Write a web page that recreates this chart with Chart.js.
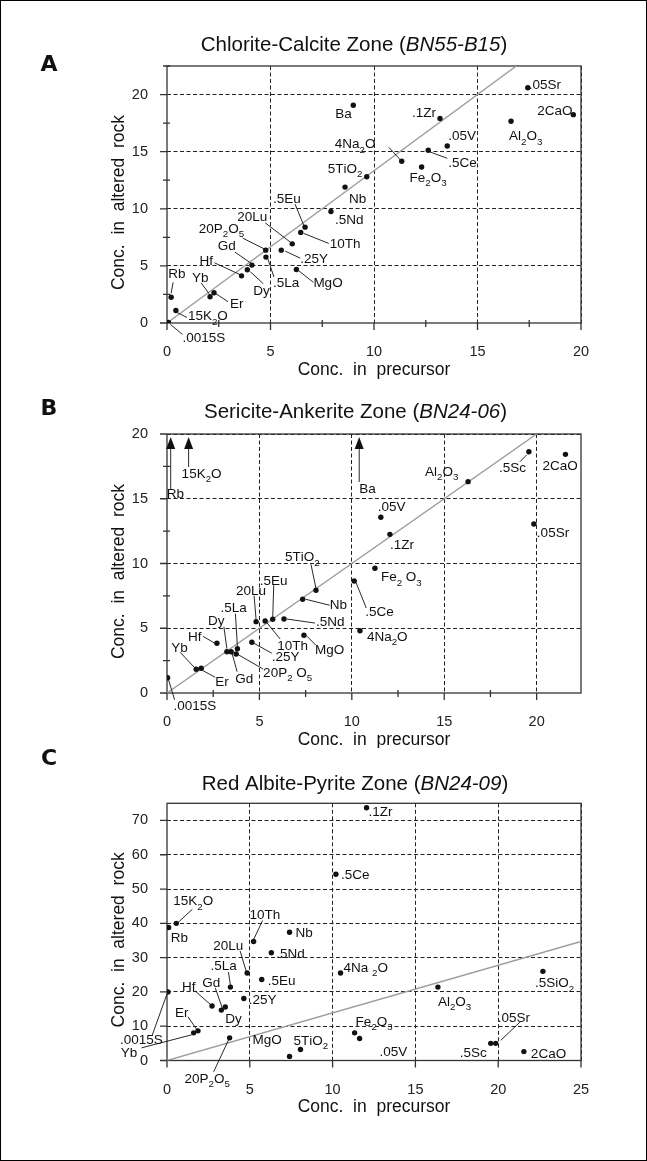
<!DOCTYPE html>
<html>
<head>
<meta charset="utf-8">
<script src="https://cdn.jsdelivr.net/npm/chart.js@4.4.1/dist/chart.umd.min.js"></script>
<style>
  html, body { margin: 0; padding: 0; background: #fff; }
  #fig { position: relative; width: 647px; height: 1161px; background: #fff; overflow: hidden; }
  #fig canvas { position: absolute; left: 0; }
  #frame { position: absolute; left: 0; top: 0; width: 647px; height: 1161px; box-sizing: border-box; border: 1px solid #000; pointer-events: none; }
</style>
</head>
<body>
<div id="fig">
  <canvas id="chartA" width="647" height="385" style="top:0px"></canvas>
  <canvas id="chartB" width="647" height="363" style="top:385px"></canvas>
  <canvas id="chartC" width="647" height="413" style="top:748px"></canvas>
  <div id="frame"></div>
</div>
<script>
// ---- data ----
// "_" marks the next character as a subscript
const elemsA = ['Rb', '15K_2O', '.0015S', 'Yb', 'Er', 'Hf', 'Dy', 'Gd', '20P_2O_5', '.5La', '20Lu', '.5Eu', '10Th', '.25Y', 'MgO',
    '.5Nd', 'Nb', '5TiO_2', '4Na_2O', 'Fe_2O_3', '.5Ce', '.05V', '.1Zr', 'Al_2O_3', '2CaO', '.05Sr', 'Ba'];
const precA = [0.2, 0.43, 0.07, 2.08, 2.27, 3.6, 3.88, 4.1, 4.77, 4.78, 6.05, 6.67, 6.46, 5.52, 6.25,
    7.92, 8.6, 9.65, 11.34, 12.3, 12.62, 13.54, 13.19, 16.62, 19.63, 17.43, 9.0];
const altA = [2.25, 1.1, 0.05, 2.3, 2.65, 4.13, 4.66, 5.07, 6.38, 5.77, 6.93, 8.39, 7.93, 6.38, 4.69,
    9.76, 11.9, 12.8, 14.16, 13.66, 15.12, 15.5, 17.9, 17.66, 18.24, 20.6, 19.06];

const elemsB = ['.0015S', 'Yb', 'Er', 'Hf', 'Dy', 'Gd', '.5La', '20P_2 O_5', '.25Y', '20Lu', '.5Eu', '10Th', '.5Nd', 'MgO', 'Nb',
    '5TiO_2', 'Al_2O_3', '.5Sc', '2CaO', '.05V', '.1Zr', '.05Sr', 'Fe_2 O_3', '.5Ce', '4Na_2O'];
const precB = [0.03, 1.58, 1.85, 2.7, 3.24, 3.47, 3.81, 3.74, 4.59, 4.82, 5.72, 5.31, 6.33, 7.41, 7.34,
    8.06, 16.29, 19.58, 21.56, 11.57, 12.06, 19.85, 11.25, 10.13, 10.44];
const altB = [1.18, 1.83, 1.91, 3.84, 3.19, 3.19, 3.42, 3.01, 3.92, 5.51, 5.69, 5.56, 5.71, 4.46, 7.24,
    7.93, 16.32, 18.63, 18.43, 13.57, 12.25, 13.05, 9.63, 8.65, 4.81];
// off-scale in the altered rock (drawn as arrows)
const offScaleB = ['Rb', '15K_2O', 'Ba'];
const offScalePrecB = [0.2, 1.17, 10.4];

const elemsC = ['Rb', '15K_2O', '.0015S', 'Yb', 'Er', 'Hf', 'Gd', 'Dy', '.5La', '20Lu', '.25Y', '.5Eu', '.5Nd', 'Nb', '10Th',
    '20P_2O_5', 'MgO', '5TiO_2', '.5Ce', '.1Zr', '4Na _2O', 'Al_2O_3', '.5SiO_2', 'Fe_2O_3', '.05V', '.05Sr', '.5Sc', '2CaO'];
const precC = [0.1, 0.56, 0.06, 1.61, 1.87, 2.72, 3.28, 3.52, 3.83, 4.84, 4.64, 5.72, 6.3, 7.4, 5.23,
    3.78, 7.4, 8.06, 10.2, 12.05, 10.48, 16.36, 22.7, 11.33, 11.63, 19.85, 19.55, 21.55];
const altC = [38.8, 40.0, 20.0, 8.07, 8.65, 15.9, 14.7, 15.6, 21.4, 25.5, 18.1, 23.6, 31.4, 37.4, 34.7,
    6.6, 1.2, 3.2, 54.3, 73.7, 25.5, 21.4, 26.0, 8.07, 6.43, 5.0, 5.0, 2.6];

// isocon lines (through the origin)
const isoconA = [[0, 0], [16.875, 22.5]];
const isoconB = [[0, 0], [20, 20]];
const isoconC = [[0, 0], [25, 34.7]];

const xTicksA = [0, 5, 10, 15, 20], yTicksA = [0, 5, 10, 15, 20];
const xTicksB = [0, 5, 10, 15, 20], yTicksB = [0, 5, 10, 15, 20];
const xTicksC = [0, 5, 10, 15, 20, 25], yTicksC = [0, 10, 20, 30, 40, 50, 60, 70];

// ---- label layout: [dx, dy, leader x1, y1, x2, y2] in px from the point ----
const labA = {
    'Rb': [-3, -19, 0, -4, 2, -15], '15K_2O': [12, 10, 1, 2, 11, 7], '.0015S': [14, 19.5, 2, 2, 14, 12],
    'Yb': [-18, -15, -1, -3, -9, -14], 'Er': [16, 15, 2, 1, 14, 9], 'Hf': [-42, -11, -1, -1, -27, -13],
    'Dy': [6, 25, 3, 2, 16, 14], 'Gd': [-34, -15, -1, -2, -17, -13], '20P_2O_5': [-67, -17, -1, -1, -23, -12],
    '.5La': [7, 30, 2, 2, 8, 20], '20Lu': [-55, -23, -1, -1, -27, -21], '.5Eu': [-32, -24, -1, -1, -10, -23],
    '10Th': [29, 16, 3, 1, 28, 11], '.25Y': [19, 13, 4, 1, 19, 8], 'MgO': [17, 18, 2, 1, 17, 13],
    '.5Nd': [4, 12], 'Nb': [4, 16], '5TiO_2': [-39, -4], '4Na_2O': [-67, -13, -1, -1, -13, -14],
    'Fe_2O_3': [-12, 15], '.5Ce': [20, 17, 0, 1, 19, 8], '.05V': [1, -6], '.1Zr': [-28, -2],
    'Al_2O_3': [-2, 19], '2CaO': [-36, 0], '.05Sr': [1, 1], 'Ba': [-18, 13]
};
const labB = {
    '.0015S': [6, 32, 1, 2, 7, 22], 'Yb': [-25, -17, -1, -1, -16, -17], 'Er': [14, 18, 1, 2, 14, 9],
    'Hf': [-29, -2, -2, 0, -14, -7], 'Dy': [-19, -27, 0, -3, -3, -25], 'Gd': [4, 31, 1, 2, 6, 20],
    '.5La': [-17, -37, 0, -2, -2, -35], '20P_2 O_5': [27, 23, 1, 0, 27, 15], '.25Y': [20, 19, 2, 1, 20, 11],
    '20Lu': [-20, -27, 0, -2, -2, -26], '.5Eu': [-13, -34, 0, -1, 1, -34], '10Th': [12, 29, 2, 2, 15, 18],
    '.5Nd': [32, 7, 3, 0, 31, 4], 'MgO': [11, 19, 3, 1, 12, 10], 'Nb': [27, 10, 3, 0, 27, 6],
    '5TiO_2': [-31, -29, 0, -2, -5, -26], 'Al_2O_3': [-43, -6], '.5Sc': [-30, 20, -2, 3, -9, 10],
    '2CaO': [-23, 16], '.05V': [-3, -6], '.1Zr': [0, 15], '.05Sr': [3, 13], 'Fe_2 O_3': [6, 13],
    '.5Ce': [11, 35, 2, 2, 12, 27], '4Na_2O': [7, 10]
};
// arrows: [length px, label dx, label dy] from the arrow base
const arrowLayB = [[52, -4, 9], [30, -7, 11], [45, 0, 11]];
const labC = {
    'Rb': [2, 15], '15K_2O': [-3, -18, 2, -1, 16, -14], '.0015S': [-48, 52, -1, 2, -16, 44],
    'Yb': [-73, 24, -2, 2, -52, 15], 'Er': [-23, -14, -1, -1, -10, -14], 'Hf': [-30, -15, -1, -1, -17, -15],
    'Gd': [-19, -23, 1, -2, -6, -22], 'Dy': [0, 16], '.5La': [-20, -17, 0, -2, -2, -15],
    '20Lu': [-34, -23, -1, -2, -7, -22], '.25Y': [5, 6], '.5Eu': [6, 5], '.5Nd': [5, 5], 'Nb': [6, 5],
    '10Th': [-4, -23, 0, -2, 9, -21], '20P_2O_5': [-45, 45, -1, 2, -16, 34], 'MgO': [-37, -12],
    '5TiO_2': [-7, -5], '.5Ce': [5, 5], '.1Zr': [2, 8], '4Na _2O': [3, -1], 'Al_2O_3': [0, 19],
    '.5SiO_2': [-8, 16], 'Fe_2O_3': [1, -7], '.05V': [20, 18], '.05Sr': [2, -21, 5, -3, 25, -22],
    '.5Sc': [-31, 14], '2CaO': [7, 6]
};

const FONT = '"Liberation Sans", Arial, Helvetica, sans-serif';

function drawRich(ctx, str, x, y, size) {
    let cx = x;
    for (let i = 0; i < str.length; i++) {
        let ch = str[i], sub = false;
        if (ch === '_') { sub = true; ch = str[++i]; }
        ctx.font = (sub ? size * 0.72 : size) + 'px ' + FONT;
        ctx.fillText(ch, cx, sub ? y + size * 0.32 : y);
        cx += ctx.measureText(ch).width;
    }
}

function decor(o) {
    return {
        id: 'decor',
        beforeDatasetsDraw(chart) {
            const {ctx, chartArea: a, scales: {x, y}} = chart;
            ctx.save();
            ctx.strokeStyle = '#333';
            ctx.lineWidth = 1.3;
            ctx.strokeRect(a.left, a.top, a.right - a.left, a.bottom - a.top);
            ctx.beginPath();
            x.ticks.forEach(t => { const p = x.getPixelForValue(t.value); ctx.moveTo(p, a.bottom); ctx.lineTo(p, a.bottom + 7); });
            y.ticks.forEach(t => { const p = y.getPixelForValue(t.value); ctx.moveTo(a.left, p); ctx.lineTo(a.left - 7, p); });
            o.minorX.forEach(v => { const p = x.getPixelForValue(v); ctx.moveTo(p, a.bottom - 3); ctx.lineTo(p, a.bottom + 4); });
            o.minorY.forEach(v => { const p = y.getPixelForValue(v); ctx.moveTo(a.left + 3, p); ctx.lineTo(a.left - 4, p); });
            ctx.stroke();
            ctx.restore();
        },
        afterDatasetsDraw(chart) {
            const {ctx, chartArea: a, scales: {x, y}} = chart;
            ctx.save();
            ctx.fillStyle = '#111';
            ctx.strokeStyle = '#111';
            ctx.lineWidth = 0.9;
            ctx.textBaseline = 'alphabetic';
            ctx.textAlign = 'left';
            ctx.beginPath();
            o.elems.forEach((name, i) => {
                const l = o.lab[name];
                if (!l) return;
                const px = x.getPixelForValue(o.xs[i]), py = y.getPixelForValue(o.ys[i]);
                drawRich(ctx, name, px + l[0], py + l[1], 13.5);
                if (l.length > 2) { ctx.moveTo(px + l[2], py + l[3]); ctx.lineTo(px + l[4], py + l[5]); }
            });
            ctx.stroke();
            // off-scale arrows
            (o.arrows || []).forEach((name, i) => {
                const [len, dx, dy] = o.arrowLay[i];
                const px = x.getPixelForValue(o.arrowX[i]);
                const tip = a.top + 3, base = tip + len;
                ctx.beginPath();
                ctx.moveTo(px, base); ctx.lineTo(px, tip + 10);
                ctx.stroke();
                ctx.beginPath();
                ctx.moveTo(px, tip); ctx.lineTo(px - 4.5, tip + 12); ctx.lineTo(px + 4.5, tip + 12); ctx.closePath();
                ctx.fill();
                drawRich(ctx, name, px + dx, base + dy, 13.5);
            });
            ctx.restore();
        },
        afterDraw(chart) {
            const {ctx, chartArea: a} = chart;
            ctx.save();
            ctx.fillStyle = '#111';
            // panel letter
            ctx.font = 'bold 22px "DejaVu Sans", sans-serif';
            ctx.textAlign = 'center';
            ctx.textBaseline = 'middle';
            ctx.fillText(o.letter, o.letterPos[0], o.letterPos[1]);
            // panel title with italic sample name
            ctx.textBaseline = 'alphabetic';
            ctx.textAlign = 'left';
            const fonts = o.title.map(p => (p[1] ? 'italic ' : '') + '20.5px ' + FONT);
            let w = 0;
            o.title.forEach((p, i) => { ctx.font = fonts[i]; w += ctx.measureText(p[0]).width; });
            let tx = o.titlePos[0] - w / 2;
            o.title.forEach((p, i) => { ctx.font = fonts[i]; ctx.fillText(p[0], tx, o.titlePos[1]); tx += ctx.measureText(p[0]).width; });
            // axis titles
            ctx.font = '17.5px ' + FONT;
            ctx.textAlign = 'center';
            ctx.textBaseline = 'middle';
            ctx.fillText('Conc.  in  precursor', (a.left + a.right) / 2, a.bottom + 47);
            ctx.translate(119, (a.top + a.bottom) / 2 + 8);
            ctx.rotate(-Math.PI / 2);
            ctx.fillText('Conc.  in  altered  rock', 0, 0);
            ctx.restore();
        }
    };
}

function panel(id, o) {
    const gridColor = c => (c.tick && c.tick.value === 0) ? 'rgba(0,0,0,0)' : '#222';
    const axis = (max, ticks, pad, fit) => ({
        type: 'linear', min: 0, max: max,
        afterBuildTicks: s => { s.ticks = ticks.map(v => ({value: v})); },
        afterFit: fit,
        ticks: {padding: pad, color: '#222', font: {family: FONT, size: 14.5}, autoSkip: false, maxRotation: 0},
        grid: {color: gridColor, lineWidth: 1, drawTicks: false},
        border: {display: false, dash: [4, 2.5]}
    });
    return new Chart(document.getElementById(id), {
        type: 'scatter',
        data: {
            datasets: [{
                data: o.xs.map((v, i) => ({x: v, y: o.ys[i]})),
                pointRadius: 2.7, pointHoverRadius: 2.7, backgroundColor: '#111', borderWidth: 0, order: 0
            }, {
                data: o.iso.map(p => ({x: p[0], y: p[1]})),
                showLine: true, pointRadius: 0, borderColor: '#9c9c9c', borderWidth: 1.4, order: 1
            }]
        },
        options: {
            responsive: false,
            animation: false,
            events: [],
            layout: {padding: {left: 107, right: 66, top: o.top, bottom: o.bottom}},
            plugins: {legend: {display: false}, tooltip: {enabled: false}},
            scales: {
                x: axis(o.xMax, o.xTicks, 20.5, s => { s.height = 40; }),
                y: axis(o.yMax, o.yTicks, 19, s => { s.width = 60; })
            }
        },
        plugins: [decor(o)]
    });
}

panel('chartA', {
    xs: precA, ys: altA, elems: elemsA, lab: labA, iso: isoconA,
    xMax: 20, yMax: 22.5, xTicks: xTicksA, yTicks: yTicksA,
    minorX: [2.5, 7.5, 12.5, 17.5], minorY: [2.5, 7.5, 12.5, 17.5, 22.5],
    top: 66, bottom: 22,
    letter: 'A', letterPos: [49, 65],
    title: [['Chlorite-Calcite Zone (', false], ['BN55-B15', true], [')', false]], titlePos: [354, 50.5]
});
panel('chartB', {
    xs: precB, ys: altB, elems: elemsB, lab: labB, iso: isoconB,
    xMax: 22.4, yMax: 20, xTicks: xTicksB, yTicks: yTicksB,
    minorX: [2.5, 7.5, 12.5, 17.5], minorY: [2.5, 7.5, 12.5, 17.5],
    top: 49, bottom: 15,
    arrows: offScaleB, arrowX: offScalePrecB, arrowLay: arrowLayB,
    letter: 'B', letterPos: [49, 409 - 385],
    title: [['Sericite-Ankerite Zone (', false], ['BN24-06', true], [')', false]], titlePos: [355.5, 418 - 385]
});
panel('chartC', {
    xs: precC, ys: altC, elems: elemsC, lab: labC, iso: isoconC,
    xMax: 25, yMax: 75, xTicks: xTicksC, yTicks: yTicksC,
    minorX: [], minorY: [],
    top: 55.3, bottom: 60.5,
    letter: 'C', letterPos: [49, 759 - 748],
    title: [['Red Albite-Pyrite Zone (', false], ['BN24-09', true], [')', false]], titlePos: [355, 790 - 748]
});
</script>
</body>
</html>
